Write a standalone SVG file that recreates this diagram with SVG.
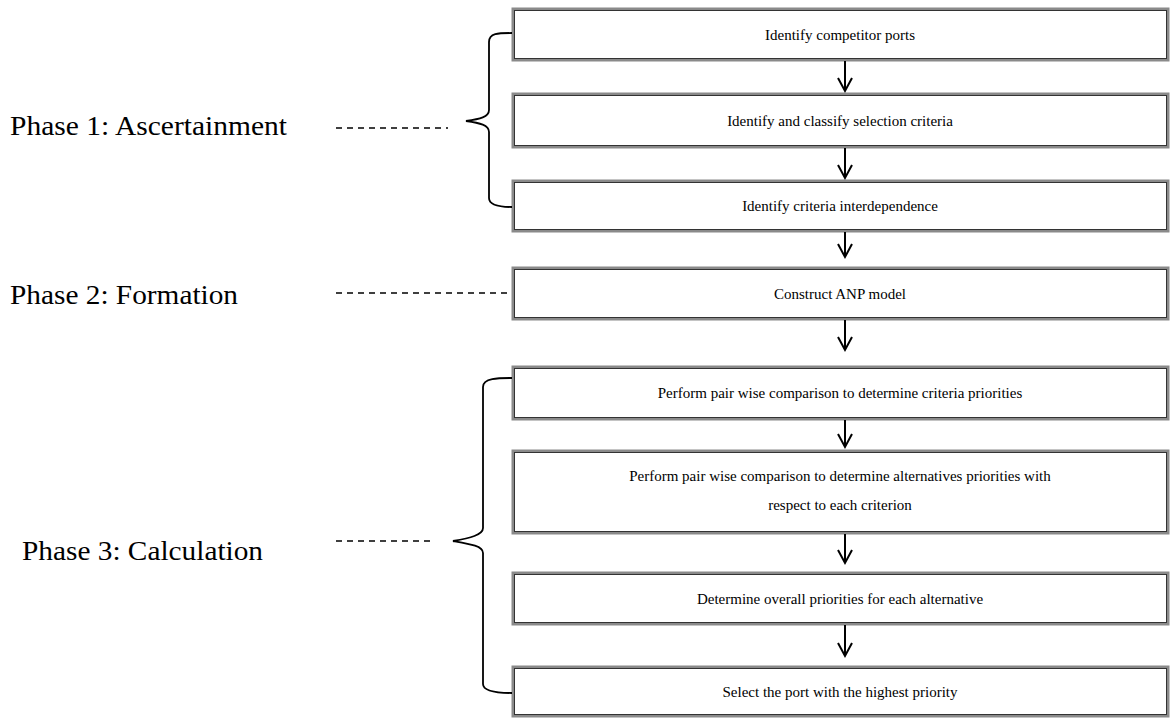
<svg xmlns="http://www.w3.org/2000/svg" width="1171" height="718" viewBox="0 0 1171 718">
<style>
.box{fill:#fff;stroke:#8a8a8a;stroke-width:3}
.inner{fill:none;stroke:#333;stroke-width:1}
.t{font-family:"Liberation Serif","Times New Roman",serif;font-size:15px;fill:#000;text-anchor:middle}
.ph{font-family:"Liberation Serif","Times New Roman",serif;font-size:28px;fill:#000}
.dash{stroke:#000;stroke-width:1.5;stroke-dasharray:6,5;fill:none}
.brace{stroke:#000;stroke-width:1.8;fill:none}
.arr{stroke:#000;stroke-width:2;fill:none}
</style>
<rect width="1171" height="718" fill="#fff"/>
<g id="n1"><rect class="box" x="513" y="9" width="655" height="51"/><rect class="inner" x="514.5" y="10.5" width="652" height="48"/><text class="t" x="840" y="40">Identify competitor ports</text></g>
<g id="n2"><rect class="box" x="513" y="94" width="655" height="53"/><rect class="inner" x="514.5" y="95.5" width="652" height="50"/><text class="t" x="840" y="126">Identify and classify selection criteria</text></g>
<g id="n3"><rect class="box" x="513" y="181" width="655" height="50"/><rect class="inner" x="514.5" y="182.5" width="652" height="47"/><text class="t" x="840" y="211">Identify criteria interdependence</text></g>
<g id="n4"><rect class="box" x="513" y="268" width="655" height="51"/><rect class="inner" x="514.5" y="269.5" width="652" height="48"/><text class="t" x="840" y="299">Construct ANP model</text></g>
<g id="n5"><rect class="box" x="513" y="367" width="655" height="52"/><rect class="inner" x="514.5" y="368.5" width="652" height="49"/><text class="t" x="840" y="398">Perform pair wise comparison to determine criteria priorities</text></g>
<g id="n6"><rect class="box" x="513" y="451" width="655" height="82"/><rect class="inner" x="514.5" y="452.5" width="652" height="79"/><text class="t" x="840" y="481">Perform pair wise comparison to determine alternatives priorities with</text><text class="t" x="840" y="510">respect to each criterion</text></g>
<g id="n7"><rect class="box" x="513" y="573" width="655" height="51"/><rect class="inner" x="514.5" y="574.5" width="652" height="48"/><text class="t" x="840" y="604">Determine overall priorities for each alternative</text></g>
<g id="n8"><rect class="box" x="513" y="667" width="655" height="49"/><rect class="inner" x="514.5" y="668.5" width="652" height="46"/><text class="t" x="840" y="697">Select the port with the highest priority</text></g>
<g id="labels">
<text class="ph" x="10" y="135" textLength="277" lengthAdjust="spacingAndGlyphs">Phase 1: Ascertainment</text>
<text class="ph" x="10" y="304" textLength="228" lengthAdjust="spacingAndGlyphs">Phase 2: Formation</text>
<text class="ph" x="22" y="560" textLength="241" lengthAdjust="spacingAndGlyphs">Phase 3: Calculation</text>
</g>
<g id="connectors">
<path class="arr" d="M845 61V91M838 78L845 91L852 78"/>
<path class="arr" d="M845 148V178M838 165L845 178L852 165"/>
<path class="arr" d="M845 232V257M838 244L845 257L852 244"/>
<path class="arr" d="M845 320V350M838 337L845 350L852 337"/>
<path class="arr" d="M845 420V447M838 434L845 447L852 434"/>
<path class="arr" d="M845 534V563M838 550L845 563L852 550"/>
<path class="arr" d="M845 625V656M838 643L845 656L852 643"/>
<line class="dash" x1="336" y1="128" x2="448" y2="128"/>
<line class="dash" x1="336" y1="293" x2="512" y2="293"/>
<line class="dash" x1="336" y1="541" x2="435" y2="541"/>
<path class="brace" d="M512 33C498 33 489 33 489 42V110C489 117 480 119 466 121C480 123 489 125 489 132V198C489 205 498 207 512 207"/>
<path class="brace" d="M512 378C498 378 483 378 483 387V528C483 535 470 538 453 541C470 544 483 546 483 553V684C483 691 498 693 512 693"/>
</g>
</svg>
